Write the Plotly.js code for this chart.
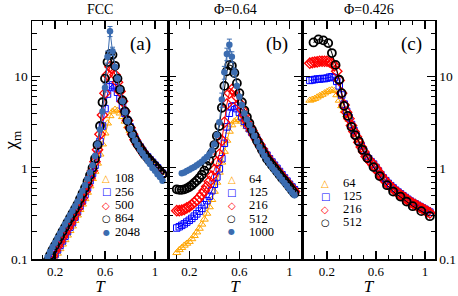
<!DOCTYPE html>
<html><head><meta charset="utf-8">
<script src="https://cdn.plot.ly/plotly-3.0.1.min.js"></script>
<style>html,body{margin:0;padding:0;background:#fff}</style>
</head><body><div id="chart" style="width:458px;height:296px"></div>
<script>
// ---------- Panel (a): FCC ----------
const Ta = [0.12,0.14,0.16,0.18,0.20,0.22,0.24,0.26,0.28,0.30,0.32,0.34,0.36,0.38,0.40,0.42,0.44,0.46,0.48,0.50,0.52,0.54,0.56,0.58,0.60,0.62,0.64,0.66,0.68,0.70,0.72,0.74,0.76,0.78,0.80,0.82,0.84,0.86,0.88,0.90,0.92,0.94,0.96,0.98,1.00,1.02,1.04,1.06];
const chiA_108 = [null,null,null,0.087,0.100,0.115,0.129,0.145,0.162,0.182,0.204,0.229,0.263,0.302,0.347,0.398,0.457,0.537,0.631,0.759,0.912,1.12,1.41,1.82,2.40,3.09,3.72,4.17,4.37,4.27,3.98,3.63,3.24,2.88,2.57,2.29,2.09,1.91,1.74,1.58,1.48,1.35,1.26,1.17,1.10,1.02,0.955,0.891];
const chiA_256 = [null,null,0.085,0.098,0.112,0.126,0.141,0.158,0.178,0.200,0.224,0.251,0.288,0.331,0.380,0.437,0.513,0.603,0.724,0.871,1.07,1.41,1.95,2.88,4.47,6.46,7.76,8.13,7.59,6.76,5.75,4.79,3.98,3.31,2.82,2.40,2.09,1.86,1.70,1.55,1.41,1.32,1.23,1.15,1.07,1.00,0.933,0.871];
const chiA_500 = [null,null,0.093,0.107,0.123,0.138,0.155,0.174,0.195,0.219,0.245,0.275,0.309,0.355,0.407,0.468,0.550,0.646,0.776,0.933,1.17,1.58,2.34,3.80,6.61,10.5,12.9,12.3,10.5,8.71,6.92,5.37,4.17,3.31,2.75,2.34,2.04,1.82,1.66,1.51,1.38,1.29,1.20,1.12,1.05,0.977,0.912,0.851];
const chiA_864 = [null,0.095,0.110,0.126,0.141,0.158,0.178,0.200,0.224,0.251,0.282,0.316,0.355,0.398,0.457,0.525,0.603,0.708,0.832,1.00,1.26,1.78,2.88,5.25,9.55,14.5,17.8,17.4,13.2,9.55,7.24,5.50,4.17,3.31,2.75,2.34,2.04,1.82,1.66,1.51,1.38,1.29,1.20,1.12,1.05,0.977,0.912,0.851];
const chiA_2048 = [0.089,0.105,0.120,0.135,0.151,0.170,0.191,0.214,0.240,0.269,0.302,0.339,0.380,0.427,0.490,0.562,0.646,0.759,0.891,1.07,1.35,1.82,2.63,4.17,7.59,16.6,31.6,19.1,12.9,9.55,7.24,5.37,4.07,3.24,2.69,2.29,2.00,1.78,1.58,1.45,1.32,1.20,1.10,1.00,0.933,0.851,0.794,0.724];
const errA_2048 = [null,null,null,null,null,null,null,null,null,null,null,null,null,null,null,null,null,null,null,null,null,null,null,null,0.8,2.5,4.0,2.0,null,null,null,null,null,null,null,null,null,null,null,null,null,null,null,null,null,null,null,null];

// ---------- Panel (b): Phi = 0.64 ----------
const Tb = [0.10,0.12,0.14,0.16,0.18,0.20,0.22,0.24,0.26,0.28,0.30,0.32,0.34,0.36,0.38,0.40,0.42,0.44,0.46,0.48,0.50,0.52,0.54,0.56,0.58,0.60,0.62,0.64,0.66,0.68,0.70,0.72,0.74,0.76,0.78,0.80,0.82,0.84,0.86,0.88,0.90,0.92,0.94,0.96,0.98,1.00,1.02,1.04];
const chiB_64 = [0.117,0.126,0.133,0.141,0.148,0.155,0.166,0.180,0.197,0.216,0.240,0.272,0.316,0.372,0.447,0.550,0.692,0.891,1.15,1.51,2.00,2.51,2.95,3.24,3.39,3.39,3.24,3.02,2.82,2.63,2.45,2.26,2.09,1.91,1.74,1.58,1.45,1.32,1.22,1.12,1.04,0.955,0.881,0.813,0.750,0.692,0.646,0.603];
const chiB_125 = [0.219,0.226,0.234,0.243,0.254,0.266,0.279,0.295,0.313,0.335,0.359,0.394,0.437,0.490,0.562,0.661,0.794,0.977,1.26,1.86,2.82,3.98,4.68,4.79,4.47,4.07,3.63,3.24,2.95,2.69,2.45,2.24,2.04,1.84,1.66,1.51,1.38,1.26,1.16,1.07,0.989,0.912,0.841,0.776,0.716,0.661,0.617,0.575];
const chiB_216 = [0.339,0.339,0.343,0.351,0.363,0.376,0.394,0.417,0.442,0.473,0.513,0.562,0.624,0.708,0.813,0.955,1.15,1.41,2.00,3.16,5.01,6.61,7.24,6.92,6.03,5.13,4.37,3.80,3.31,2.88,2.57,2.29,2.04,1.82,1.62,1.46,1.32,1.20,1.11,1.02,0.944,0.871,0.804,0.741,0.692,0.638,0.589,0.550];
const chiB_512 = [0.582,0.575,0.575,0.582,0.596,0.617,0.646,0.684,0.724,0.776,0.841,0.933,1.05,1.20,1.45,1.78,2.24,2.88,4.57,7.94,11.5,13.5,13.2,11.0,8.51,6.61,5.25,4.27,3.63,3.09,2.63,2.29,2.00,1.78,1.58,1.41,1.26,1.16,1.07,0.989,0.912,0.841,0.776,0.724,0.668,0.617,0.569,0.525];
const chiB_1000 = [null,null,0.871,0.891,0.923,0.955,0.989,1.02,1.07,1.12,1.17,1.24,1.32,1.41,1.55,1.82,2.29,3.16,5.62,11.2,17.8,22.4,16.6,11.2,7.94,6.03,4.90,3.98,3.39,2.95,2.57,2.24,1.95,1.70,1.51,1.35,1.22,1.11,1.02,0.944,0.871,0.804,0.741,0.684,0.631,0.582,0.537,0.501];
const errB_1000 = [null,null,null,null,null,null,null,null,null,null,null,null,null,null,null,null,null,null,1.0,1.8,2.8,3.5,2.2,1.2,null,null,null,null,null,null,null,null,null,null,null,null,null,null,null,null,null,null,null,null,null,null,null,null];

// ---------- Panel (c): Phi = 0.426 ----------
const Tc = [0.06,0.08,0.10,0.12,0.14,0.16,0.18,0.20,0.22,0.24,0.26,0.28,0.30,0.32,0.34,0.36,0.38,0.40,0.42,0.44,0.46,0.48,0.50,0.52,0.54,0.56,0.58,0.60,0.62,0.64,0.66,0.68,0.70,0.72,0.74,0.76,0.78,0.80,0.82,0.84,0.86,0.88,0.90,0.92,0.94,0.96,0.98,1.00,1.02,1.04];
const chiC_64 = [5.50,5.62,5.75,5.96,6.17,6.38,6.61,6.84,7.08,7.16,7.00,6.31,5.50,4.79,4.27,3.80,3.39,3.02,2.63,2.29,2.00,1.78,1.57,1.40,1.29,1.20,1.12,1.04,0.944,0.861,0.794,0.741,0.692,0.653,0.617,0.582,0.556,0.531,0.507,0.484,0.462,0.442,0.427,0.412,0.398,0.385,0.372,0.359,0.347,0.335];
const chiC_125 = [9.12,9.23,9.33,9.44,9.44,9.55,9.55,9.66,9.89,10.0,9.77,8.91,7.94,6.31,5.01,4.17,3.55,2.99,2.57,2.24,1.95,1.74,1.53,1.36,1.26,1.17,1.10,1.01,0.923,0.841,0.776,0.724,0.676,0.638,0.603,0.569,0.543,0.519,0.495,0.473,0.452,0.432,0.417,0.403,0.389,0.376,0.363,0.351,0.339,0.327];
const chiC_216 = [14.1,14.3,14.5,14.6,14.8,14.8,14.8,14.8,14.6,14.1,13.2,11.5,9.12,6.61,4.90,4.07,3.47,2.92,2.51,2.19,1.91,1.70,1.50,1.33,1.23,1.15,1.07,0.989,0.902,0.822,0.759,0.708,0.661,0.624,0.589,0.556,0.531,0.507,0.484,0.462,0.442,0.422,0.407,0.394,0.380,0.367,0.355,0.343,0.331,0.320];
const Tc_512 = [0.09,0.13,0.17,0.21,0.24,0.27,0.30,0.32,0.34,0.37,0.40,0.43,0.46,0.49,0.53,0.58,0.63,0.69,0.74,0.80,0.85,0.90,0.97,1.04];
const chiC_512 = [23.8,25.7,25.1,23.4,18.2,13.5,9.27,6.61,4.79,3.72,2.82,2.29,1.95,1.58,1.28,1.02,0.813,0.646,0.550,0.484,0.427,0.380,0.335,0.295];

// ---------- labels & ticks ----------
const panelTitles = ['FCC', 'Φ=0.64', 'Φ=0.426'];
const panelTags = ['(a)', '(b)', '(c)'];
const legendA = ['108', '256', '500', '864', '2048'];
const legendB = ['64', '125', '216', '512', '1000'];
const legendC = ['64', '125', '216', '512'];
const xTickVals = [0.2, 0.6, 1.0];
const xTickText = ['0.2', '0.6', '1'];
const xMinorVals = [0, 0.1, 0.3, 0.4, 0.5, 0.7, 0.8, 0.9, 1.1];
const yTickVals = [0.1, 1, 10];
const yTickText = ['0.1', '1', '10'];
const yMinorVals = [0.2,0.3,0.4,0.5,0.6,0.7,0.8,0.9,2,3,4,5,6,7,8,9,20,30,40];

const SERIF = '"Liberation Serif", "Times New Roman", Times, serif';
const ORANGE = '#FFA500', BLUE = '#0000FF', RED = '#FF0000', BLACK = '#000000', STEEL = '#3b6cb0';

const styles = [
  {symbol: 'triangle-up-open', size: 7, color: ORANGE, mlw: 1, glyph: '△', gsize: 10},
  {symbol: 'square-open', size: 6.5, color: BLUE, mlw: 1, glyph: '□', gsize: 10},
  {symbol: 'diamond-open', size: 8, color: RED, mlw: 1.3, glyph: '◇', gsize: 10},
  {symbol: 'circle-open', size: 8, color: BLACK, mlw: 1.8, glyph: '<b>○</b>', gsize: 10},
  {symbol: 'circle', size: 6.5, color: STEEL, mlw: 0, glyph: '●', gsize: 8}
];

function tr(x, y, name, st, xa, ya, err) {
  const t = {
    type: 'scatter', mode: 'lines+markers', x: x, y: y, name: name,
    xaxis: xa, yaxis: ya, showlegend: false, cliponaxis: true,
    line: {color: st.color, width: 1},
    marker: {symbol: st.symbol, size: st.size, color: st.color, line: {color: st.color, width: st.mlw}}
  };
  if (err) t.error_y = {type: 'data', array: err, visible: true, color: st.color, thickness: 1, width: 2.5};
  return t;
}

const data = [
  tr(Ta, chiA_108, '108', styles[0], 'x', 'y'),
  tr(Ta, chiA_256, '256', styles[1], 'x', 'y'),
  tr(Ta, chiA_500, '500', styles[2], 'x', 'y'),
  tr(Ta, chiA_864, '864', styles[3], 'x', 'y'),
  tr(Ta, chiA_2048, '2048', styles[4], 'x', 'y', errA_2048),
  tr(Tb, chiB_64, '64', styles[0], 'x2', 'y2'),
  tr(Tb, chiB_125, '125', styles[1], 'x2', 'y2'),
  tr(Tb, chiB_216, '216', styles[2], 'x2', 'y2'),
  tr(Tb, chiB_512, '512', styles[3], 'x2', 'y2'),
  tr(Tb, chiB_1000, '1000', styles[4], 'x2', 'y2', errB_1000),
  tr(Tc, chiC_64, '64', styles[0], 'x3', 'y3'),
  tr(Tc, chiC_125, '125', styles[1], 'x3', 'y3'),
  tr(Tc, chiC_216, '216', styles[2], 'x3', 'y3'),
  tr(Tc_512, chiC_512, '512', styles[3], 'x3', 'y3')
];

const W = 458, H = 296, ML = 32, MR = 23, MT = 21, MB = 37;
const PW = W - ML - MR, PH = H - MT - MB;
const edges = [32, 168, 302, 435].map(v => (v - ML) / PW);

function xAxis(i, range, anchor) {
  return {
    domain: [edges[i], edges[i + 1]], range: range, anchor: anchor,
    showline: true, linecolor: 'black', linewidth: 1.5, mirror: 'ticks',
    ticks: 'inside', ticklen: 8, tickwidth: 1.2, tickcolor: 'black',
    showgrid: false, zeroline: false,
    tickmode: 'array', tickvals: xTickVals, ticktext: xTickText,
    minor: {tickmode: 'array', tickvals: xMinorVals, ticks: 'inside', ticklen: 4, tickwidth: 1, tickcolor: 'black', showgrid: false},
    tickfont: {family: SERIF, size: 13, color: 'black'},
    title: {text: '<i>T</i>', font: {family: SERIF, size: 17, color: 'black'}, standoff: 4}
  };
}
function yAxis(anchor, side, labels) {
  return {
    type: 'log', range: [-1, 1.612], anchor: anchor, side: side,
    showline: true, linecolor: 'black', linewidth: 1.5, mirror: 'ticks',
    ticks: 'inside', ticklen: 8, tickwidth: 1.2, tickcolor: 'black',
    showgrid: false, zeroline: false, showticklabels: labels,
    tickmode: 'array', tickvals: yTickVals, ticktext: yTickText,
    minor: {tickmode: 'array', tickvals: yMinorVals, ticks: 'inside', ticklen: 4.5, tickwidth: 1, tickcolor: 'black', showgrid: false},
    tickfont: {family: SERIF, size: 13.5, color: 'black'}
  };
}

const yA = yAxis('x', 'left', true);
yA.title = {text: 'χ<sub>m</sub>', font: {family: SERIF, size: 19, color: 'black'}, standoff: 0};

const annotations = [];
const centers = [0, 1, 2].map(i => (edges[i] + edges[i + 1]) / 2);
panelTitles.forEach((t, i) => annotations.push({
  text: t, xref: 'paper', yref: 'paper', x: centers[i], y: 1, yshift: 12,
  xanchor: 'center', yanchor: 'middle', showarrow: false,
  font: {family: SERIF, size: 14, color: 'black'}
}));
const tagX = [140, 276.5, 411];
panelTags.forEach((t, i) => annotations.push({
  text: t, xref: 'paper', yref: 'paper', x: (tagX[i] - ML) / PW, y: (H - MB - 44) / PH,
  xanchor: 'center', yanchor: 'middle', showarrow: false,
  font: {family: SERIF, size: 19, color: 'black'}
}));
function addLegend(labels, symX, txtX, rowsY) {
  labels.forEach((lab, k) => {
    const st = styles[k];
    const yy = (H - MB - rowsY[k]) / PH;
    annotations.push({
      text: st.glyph, xref: 'paper', yref: 'paper', x: (symX - ML) / PW, y: yy,
      xanchor: 'center', yanchor: 'middle', showarrow: false,
      font: {family: 'DejaVu Sans', size: st.gsize, color: st.color}
    });
    annotations.push({
      text: lab, xref: 'paper', yref: 'paper', x: (txtX - ML) / PW, y: yy,
      xanchor: 'left', yanchor: 'middle', showarrow: false,
      font: {family: SERIF, size: 12.5, color: 'black'}
    });
  });
}
addLegend(legendA, 106, 113, [178, 191.5, 205, 218.5, 232]);
addLegend(legendB, 231.7, 246.5, [179, 192.2, 205.4, 218.6, 231.8]);
addLegend(legendC, 325, 341, [183, 196, 209, 222]);

const layout = {
  width: W, height: H, margin: {l: ML, r: MR, t: MT, b: MB, pad: 0},
  paper_bgcolor: 'white', plot_bgcolor: 'white', showlegend: false,
  font: {family: SERIF, color: 'black'},
  xaxis: xAxis(0, [0.016, 1.104], 'y'),
  xaxis2: xAxis(1, [0.03, 1.10], 'y2'),
  xaxis3: xAxis(2, [-0.004, 1.082], 'y3'),
  yaxis: yA,
  yaxis2: yAxis('x2', 'left', false),
  yaxis3: yAxis('x3', 'right', true),
  annotations: annotations
};

Plotly.newPlot('chart', data, layout, {displayModeBar: false, staticPlot: true});
</script>
</body></html>
